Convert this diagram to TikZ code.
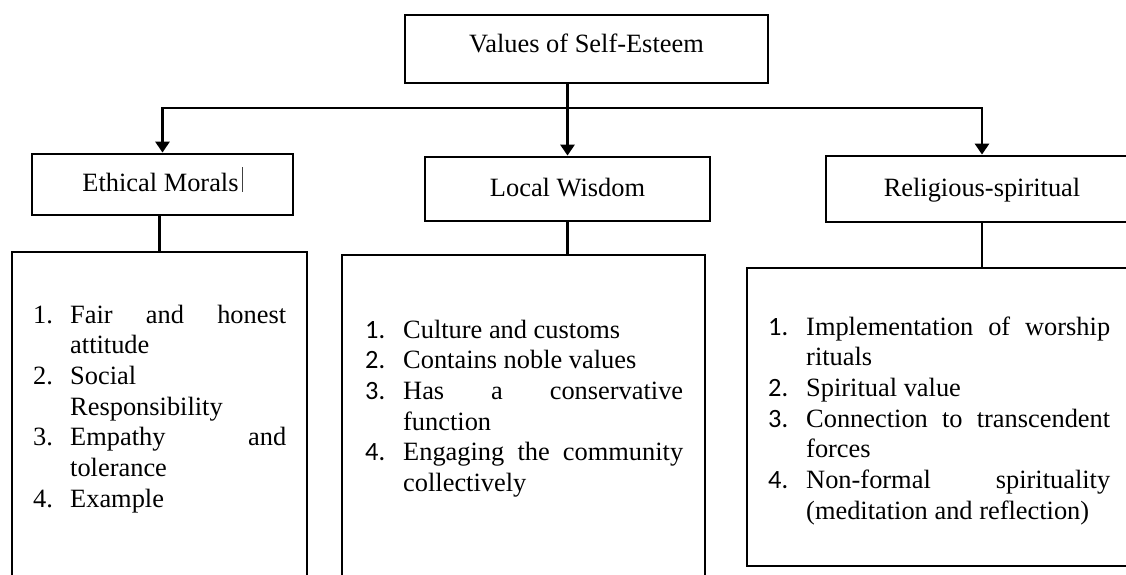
\documentclass[tikz,border=0pt]{standalone}
\usepackage{fontspec}
\setmainfont{Liberation Serif}
\newfontfamily\numfont{Carlito}
\usetikzlibrary{arrows.meta}
\newlength\numw
\newcommand\fl[2]{\hbox{\hbox to\numw{#1\hss}#2}}
\newcommand\cl[1]{\hbox{\hskip\numw #1}}
\newcommand\jl[2]{\hbox to #1{#2}}
\begin{document}
\begin{tikzpicture}[x=1pt,y=-1pt,
  box/.style={draw, line width=2.8pt, inner sep=0pt, rectangle},
  head/.style={box, font=\fontsize{26.4}{30.4}\selectfont, text height=18pt, text depth=4pt},
  listtext/.style={inner sep=0pt, anchor=base west, font=\fontsize{26.4}{30.7}\selectfont},
  conn/.style={line width=2.8pt},
  arr/.style={conn, -{Triangle[width=14pt,length=11pt]}}]
\useasboundingbox (0,0) rectangle (1126,574);
\fill[white] (0,0) rectangle (1126,574);
\clip (0,0) rectangle (1126,574);
% header boxes
\node[head, minimum width=363pt, minimum height=68pt, text depth=12pt] (top) at (586.5,49) {Values of Self-Esteem};
\node[head, minimum width=261pt, minimum height=61pt] (ethic) at (162.5,184.5) {Ethical Morals\hspace{3pt}\textcolor{darkgray}{\rule{1pt}{25pt}}};
\node[head, minimum width=285pt, minimum height=64pt] (local) at (567.5,189) {Local Wisdom};
\node[head, minimum width=312pt, minimum height=66pt] (relig) at (982,189) {Religious-spiritual};
% list boxes
\node[box, minimum width=295pt, minimum height=368pt] (elist) at (159.5,436) {};
\node[box, minimum width=363pt, minimum height=365pt] (llist) at (523.5,437.5) {};
\node[box, minimum width=403pt, minimum height=298pt] (rlist) at (948.5,417) {};
% list texts
\node[listtext] (etext) at (33,323) {\setlength\numw{37pt}\vtop{%
\fl{1.}{\jl{216pt}{Fair\hfill and\hfill honest}}%
\cl{attitude}%
\fl{2.}{Social}%
\cl{Responsibility}%
\fl{3.}{\jl{216pt}{Empathy\hfill and}}%
\cl{tolerance}%
\fl{4.}{Example}}};
\node[listtext] (ltext) at (365,338) {\setlength\numw{38pt}\vtop{%
\fl{\numfont 1.}{Culture and customs}%
\fl{\numfont 2.}{Contains noble values}%
\fl{\numfont 3.}{\jl{280pt}{Has\hfill a\hfill conservative}}%
\cl{function}%
\fl{\numfont 4.}{\jl{280pt}{Engaging\hfill the\hfill community}}%
\cl{collectively}}};
\node[listtext] (rtext) at (768,335) {\setlength\numw{38pt}\vtop{%
\fl{\numfont 1.}{\jl{304pt}{Implementation\hfill of\hfill worship}}%
\cl{rituals}%
\fl{\numfont 2.}{Spiritual value}%
\fl{\numfont 3.}{\jl{304pt}{Connection\hfill to\hfill transcendent}}%
\cl{forces}%
\fl{\numfont 4.}{\jl{304pt}{Non-formal\hfill spirituality}}%
\cl{(meditation and reflection)}}};
% connectors
\coordinate (bus) at (567.5,108);
\draw[arr] (top.south -| local.north) -- (local.north);
\draw[arr] (bus) -| (ethic.north);
\draw[arr] (bus) -| (relig.north);
\draw[conn] (elist.north |- ethic.south) -- (elist.north);
\draw[conn] (local.south) -- (local.south |- llist.north);
\draw[conn] (relig.south) -- (relig.south |- rlist.north);
\end{tikzpicture}
\end{document}
